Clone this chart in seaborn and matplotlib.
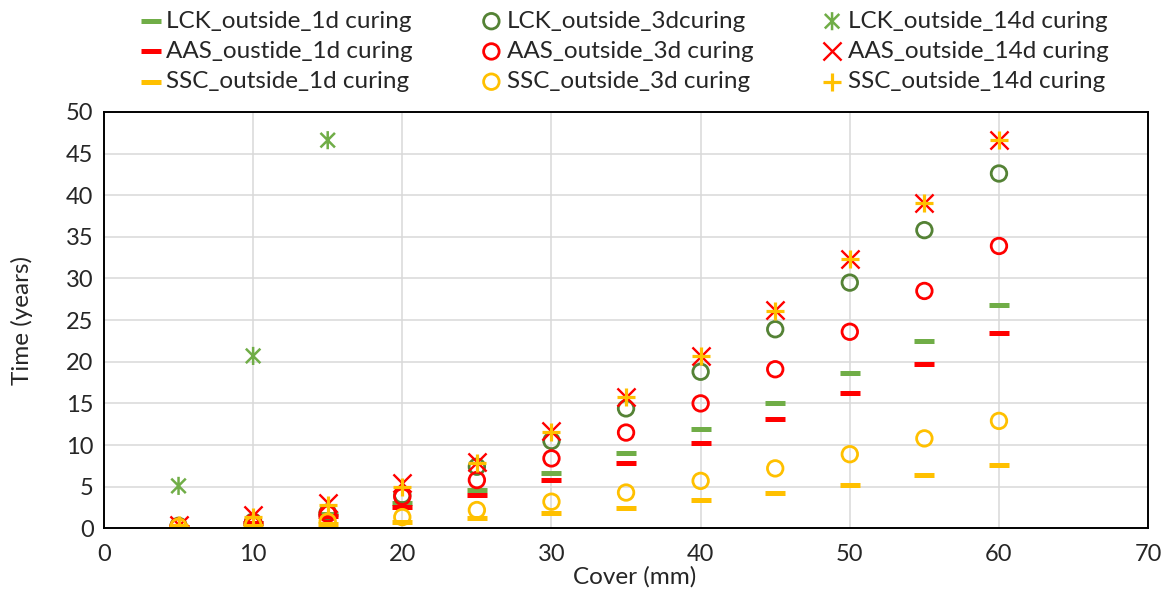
import matplotlib
matplotlib.use("Agg")
import matplotlib.pyplot as plt
from matplotlib.path import Path
import seaborn as sns

# dados
cover = [5, 10, 15, 20, 25, 30, 35, 40, 45, 50, 55, 60]
cover_lck14 = [5, 10, 15]

lck_1d = [0.2, 0.7, 1.7, 3.0, 4.6, 6.6, 9.0, 11.9, 15.0, 18.6, 22.5, 26.8]
lck_3d = [0.3, 0.8, 1.9, 4.0, 7.4, 10.5, 14.4, 18.8, 23.9, 29.5, 35.8, 42.6]
lck_14d = [5.1, 20.7, 46.6]
aas_1d = [0.15, 0.6, 1.5, 2.6, 4.05, 5.8, 7.9, 10.3, 13.1, 16.2, 19.7, 23.4]
aas_3d = [0.2, 0.7, 1.75, 3.8, 5.8, 8.4, 11.5, 15.0, 19.1, 23.6, 28.5, 33.9]
aas_14d = [0.4, 1.6, 3.0, 5.5, 8.0, 11.7, 15.8, 20.7, 26.2, 32.3, 39.1, 46.6]
ssc_1d = [0.1, 0.3, 0.55, 0.8, 1.2, 1.85, 2.5, 3.4, 4.25, 5.25, 6.35, 7.6]
ssc_3d = [0.2, 0.45, 0.8, 1.35, 2.2, 3.2, 4.3, 5.7, 7.2, 8.9, 10.8, 12.9]
ssc_14d = [0.35, 1.35, 2.8, 5.0, 7.9, 11.6, 15.8, 20.7, 26.1, 32.3, 39.1, 46.6]

labels = ["LCK_outside_1d curing", "LCK_outside_3dcuring", "LCK_outside_14d curing",
          "AAS_oustide_1d curing", "AAS_outside_3d curing", "AAS_outside_14d curing",
          "SSC_outside_1d curing", "SSC_outside_3d curing", "SSC_outside_14d curing"]

green = "#70AD47"
dkgreen = "#548235"
red = "#FF0000"
yellow = "#FFC000"

sns.set_style("white")
plt.rcParams["font.family"] = ["Lato", "DejaVu Sans"]

# asterisco estilo Excel (x + barra vertical)
asterisk = Path([(-1, -1), (1, 1), (-1, 1), (1, -1), (0, -1.25), (0, 1.25)],
                [Path.MOVETO, Path.LINETO, Path.MOVETO, Path.LINETO, Path.MOVETO, Path.LINETO])

fig = plt.figure(figsize=(11.68, 5.95), dpi=100)
ax = fig.add_axes([0.089, 0.112, 0.894, 0.700])

dash_kw = dict(marker="_", s=190, linewidth=3.6)
circ_kw = dict(marker="o", s=125, facecolor="none", linewidth=2.0)

sns.scatterplot(x=cover, y=lck_1d, color=green, label=labels[0], ax=ax, **dash_kw)
sns.scatterplot(x=cover, y=lck_3d, edgecolor=dkgreen, label=labels[1], ax=ax, **circ_kw)
sns.scatterplot(x=cover_lck14, y=lck_14d, marker=asterisk, s=170, facecolor="none",
                edgecolor=green, linewidth=1.8, label=labels[2], ax=ax)
sns.scatterplot(x=cover, y=aas_1d, color=red, label=labels[3], ax=ax, **dash_kw)
sns.scatterplot(x=cover, y=aas_3d, edgecolor=red, label=labels[4], ax=ax, **circ_kw)
sns.scatterplot(x=cover, y=aas_14d, marker="x", s=170, color=red, linewidth=1.7,
                label=labels[5], ax=ax)
sns.scatterplot(x=cover, y=ssc_1d, color=yellow, label=labels[6], ax=ax, **dash_kw)
sns.scatterplot(x=cover, y=ssc_3d, edgecolor=yellow, label=labels[7], ax=ax, **circ_kw)
sns.scatterplot(x=cover, y=ssc_14d, marker="+", s=160, color=yellow, linewidth=2.3,
                label=labels[8], ax=ax)

ax.set_xlim(0, 70)
ax.set_ylim(0, 50)
ax.set_xticks(range(0, 71, 10))
ax.set_yticks(range(0, 51, 5))
ax.grid(True, color="#D9D9D9", linewidth=1.1)
ax.set_axisbelow(True)
for sp in ax.spines.values():
    sp.set_color("black")
    sp.set_linewidth(1.4)
ax.tick_params(direction="inout", length=8, width=1.3, color="black", labelsize=17)
ax.tick_params(axis="x", pad=7)
ax.set_xlabel("Cover (mm)", fontsize=17.5, labelpad=1)
ax.xaxis.label.set_x(0.508)
ax.set_ylabel("Time (years)", fontsize=17.5, labelpad=24)

# legenda em 3 colunas (ordem por linha)
h, l = ax.get_legend_handles_labels()
if ax.get_legend():
    ax.get_legend().remove()
order = [0, 3, 6, 1, 4, 7, 2, 5, 8]
fig.legend([h[i] for i in order], [l[i] for i in order], ncol=3, loc="upper left",
           bbox_to_anchor=(0.103, 1.019), frameon=False, fontsize=17.5,
           handlelength=0.7, handletextpad=0.3, columnspacing=2.87, labelspacing=0.38)

fig.savefig("out.png", dpi=100)
